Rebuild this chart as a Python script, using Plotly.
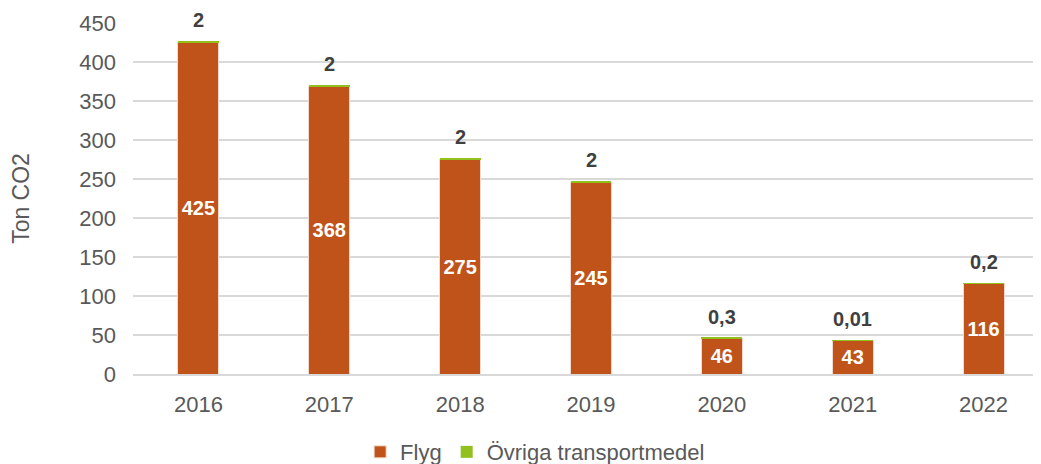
import plotly.graph_objects as go

years = ["2016", "2017", "2018", "2019", "2020", "2021", "2022"]
flyg = [425, 368, 275, 245, 46, 43, 116]
ovriga = [2, 2, 2, 2, 0.3, 0.01, 0.2]
ovriga_labels = ["2", "2", "2", "2", "0,3", "0,01", "0,2"]
flyg_labels = [str(v) for v in flyg]

fig = go.Figure()
fig.add_trace(go.Bar(
    x=years, y=flyg, name="Flyg",
    marker=dict(color="#C0531A", line=dict(color="#F3D9CB", width=1)),
    text=flyg_labels, textposition="inside", insidetextanchor="middle",
    textfont=dict(color="white", size=20, family="Liberation Sans", weight="bold"),
    hoverinfo="skip",
))
fig.add_trace(go.Bar(
    x=years, y=ovriga, name="Övriga transportmedel",
    marker=dict(color="#92C01F", line=dict(width=0)),
    hoverinfo="skip",
))

for i, (f, o, lab) in enumerate(zip(flyg, ovriga, ovriga_labels)):
    fig.add_annotation(x=i, y=f + o, text=f"<b>{lab}</b>", showarrow=False,
                       yanchor="bottom", yshift=8,
                       font=dict(size=20, color="#404040", family="Liberation Sans"))

fig.update_layout(
    barmode="stack",
    bargap=0.687,
    width=1041, height=464,
    margin=dict(l=125, r=0, t=15, b=98, autoexpand=False),
    paper_bgcolor="white", plot_bgcolor="white",
    font=dict(family="Liberation Sans", color="#595959", size=22),
    uniformtext=dict(mode="show", minsize=10),
    showlegend=True,
    legend=dict(orientation="h", x=0.439, xanchor="center",
                yref="container", y=0.043, yanchor="middle",
                font=dict(size=22, color="#595959"), itemwidth=30,
                traceorder="normal"),
    yaxis=dict(range=[0, 450], dtick=50, showgrid=True, gridcolor="#D9D9D9",
               gridwidth=1.5, zeroline=False, showline=False, ticks="",
               automargin=False, ticklabelstandoff=16,
               tickfont=dict(size=22, color="#595959"),
               title=dict(text="Ton CO2", font=dict(size=23, color="#595959"), standoff=45)),
    xaxis=dict(type="category", range=[-0.5, len(years) - 0.5], showline=True,
               linecolor="#D9D9D9", linewidth=1.5, ticks="", automargin=False,
               ticklabelstandoff=10,
               tickfont=dict(size=22, color="#595959")),
)

fig.write_html("out.html")
